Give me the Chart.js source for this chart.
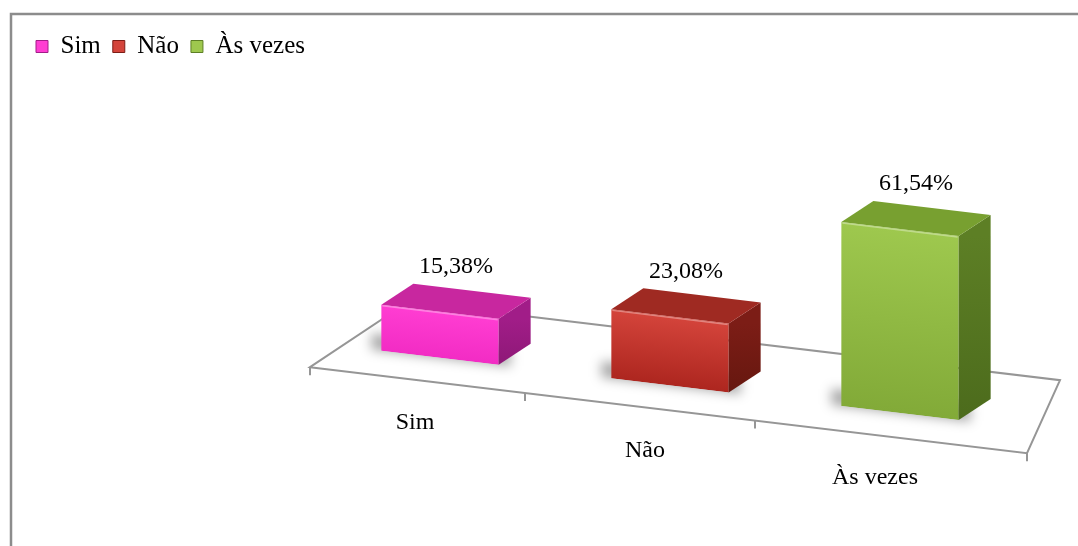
<!DOCTYPE html>
<html>
<head>
<meta charset="utf-8">
<script src="https://cdn.jsdelivr.net/npm/chart.js@4.4.0/dist/chart.umd.min.js"></script>
<style>
  html, body { margin: 0; padding: 0; background: #fff; }
</style>
</head>
<body>
<canvas id="chart" width="1078" height="546"></canvas>
<script>
const categories = ['Sim', 'Não', 'Às vezes']
const percentages = [15.38, 23.08, 61.54]

const frontTop = ['#ff3dd2', '#d4443b', '#9ec84e']
const frontBottom = ['#f22cc4', '#ad261f', '#82aa38']
const sideColors = ['#a11d88', '#7c1d16', '#5d7f25']
const sideBottom = ['#8e1877', '#66170f', '#4c6b1c']
const topColors = ['#c8279f', '#9f2a22', '#78a030']

// fake 3D look: everything leans down to the right
const skew = 0.12
const depth = { x: 32, y: -21 }
const serif = "'Liberation Serif', 'Times New Roman', serif"

const toScreen = (chart, x, y) => [x, y + skew * (x - chart.chartArea.left)]

const poly = (ctx, pts) => {
    ctx.beginPath()
    ctx.moveTo(pts[0][0], pts[0][1])
    pts.slice(1).forEach(p => ctx.lineTo(p[0], p[1]))
    ctx.closePath()
}

const perspective = {
    id: 'perspective',
    beforeDraw(chart) {
        const ctx = chart.ctx
        ctx.save()
        ctx.fillStyle = '#fff'
        ctx.fillRect(0, 0, chart.width, chart.height)
        ctx.strokeStyle = '#8c8c8c'
        ctx.lineWidth = 2.5
        ctx.beginPath()
        ctx.moveTo(11, chart.height)
        ctx.lineTo(11, 14)
        ctx.lineTo(chart.width, 14)
        ctx.stroke()
        ctx.restore()
    },
    beforeDatasetsDraw(chart) {
        const { ctx, chartArea: a } = chart
        const base = chart.scales.y.getPixelForValue(0)
        const xs = chart.scales.x
        const pt = (x, y) => toScreen(chart, x, y)

        // floor
        const fl = pt(a.left - 15, base + 25)
        const fr = pt(a.right + 12, base + 25)
        const br = pt(a.right + 45, base - 52)
        const bl = pt(a.left + 83, base - 52)
        ctx.save()
        ctx.strokeStyle = '#969696'
        ctx.lineWidth = 2
        poly(ctx, [fl, fr, br, bl])
        ctx.fillStyle = '#fff'
        ctx.fill()
        ctx.stroke()

        // tick marks on the front edge
        const ticks = [a.left - 15, a.right + 12]
        for (let i = 0; i < categories.length - 1; i++) {
            ticks.push((xs.getPixelForValue(i) + xs.getPixelForValue(i + 1)) / 2 - 30)
        }
        ticks.forEach(x => {
            const p = pt(x, base + 25)
            ctx.beginPath()
            ctx.moveTo(p[0], p[1])
            ctx.lineTo(p[0], p[1] + 8)
            ctx.stroke()
        })
        ctx.restore()

        // soft shadows under the bars
        ctx.save()
        ctx.transform(1, skew, 0, 1, 0, -skew * a.left)
        ctx.filter = 'blur(6px)'
        ctx.fillStyle = 'rgba(0,0,0,0.35)'
        chart.getDatasetMeta(0).data.forEach(el => {
            ctx.fillRect(el.x - el.width / 2 - 10, base - 16, el.width + 22, 16)
        })
        ctx.restore()

        // bars are drawn leaning
        ctx.save()
        ctx.transform(1, skew, 0, 1, 0, -skew * a.left)
    },
    afterDatasetsDraw(chart) {
        const ctx = chart.ctx
        ctx.restore()
        const base = chart.scales.y.getPixelForValue(0)
        const xs = chart.scales.x
        const pt = (x, y) => toScreen(chart, x, y)
        const add = p => [p[0] + depth.x, p[1] + depth.y]

        chart.getDatasetMeta(0).data.forEach((el, i) => {
            const half = el.width / 2
            const tl = pt(el.x - half, el.y)
            const tr = pt(el.x + half, el.y)
            const brr = pt(el.x + half, base)

            // side face
            const g = ctx.createLinearGradient(0, tr[1], 0, brr[1])
            g.addColorStop(0, sideColors[i])
            g.addColorStop(1, sideBottom[i])
            ctx.fillStyle = g
            poly(ctx, [tr, brr, add(brr), add(tr)])
            ctx.fill()

            // top face
            ctx.fillStyle = topColors[i]
            poly(ctx, [tl, tr, add(tr), add(tl)])
            ctx.fill()

            // bevel highlight
            ctx.strokeStyle = 'rgba(255,255,255,0.35)'
            ctx.lineWidth = 1.5
            ctx.beginPath()
            ctx.moveTo(tl[0] + 1, tl[1] + 1)
            ctx.lineTo(tr[0] - 1, tr[1] + 1)
            ctx.stroke()

            // value label
            const top = pt(el.x, el.y)
            ctx.fillStyle = '#000'
            ctx.font = '24px ' + serif
            ctx.textAlign = 'center'
            ctx.textBaseline = 'middle'
            ctx.fillText(percentages[i].toFixed(2).replace('.', ',') + '%', el.x + depth.x / 2, top[1] + depth.y - 24)
        })

        // category labels in front of the floor
        categories.forEach((c, i) => {
            const x = xs.getPixelForValue(i) - 25
            const p = pt(x, base + 25)
            ctx.fillStyle = '#000'
            ctx.font = '24px ' + serif
            ctx.textAlign = 'center'
            ctx.textBaseline = 'middle'
            ctx.fillText(c, x, p[1] + 43)
        })
    }
}

new Chart(document.getElementById('chart'), {
    type: 'bar',
    data: {
        labels: categories,
        datasets: [{
            data: percentages,
            backgroundColor: (c) => {
                const chart = c.chart
                if (!chart.chartArea) return frontTop[c.dataIndex]
                const y = chart.scales.y
                const g = chart.ctx.createLinearGradient(0, y.getPixelForValue(percentages[c.dataIndex]), 0, y.getPixelForValue(0))
                g.addColorStop(0, frontTop[c.dataIndex])
                g.addColorStop(1, frontBottom[c.dataIndex])
                return g
            },
            borderWidth: 0,
            categoryPercentage: 1,
            barPercentage: 0.51
        }]
    },
    options: {
        responsive: false,
        animation: false,
        layout: {
            padding: { left: 24, right: 63, top: 22, bottom: 202 }
        },
        scales: {
            x: { display: false },
            y: {
                min: 0,
                max: 92,
                ticks: { display: false },
                grid: { display: false },
                border: { display: false },
                afterFit: s => { s.width = 301 }
            }
        },
        plugins: {
            tooltip: { enabled: false },
            legend: {
                position: 'top',
                align: 'start',
                labels: {
                    boxWidth: 12,
                    boxHeight: 12,
                    padding: 12,
                    color: '#000',
                    font: { size: 25, family: serif },
                    generateLabels: (chart) => chart.data.labels.map((l, i) => ({
                        text: l,
                        fillStyle: frontTop[i],
                        strokeStyle: sideColors[i],
                        lineWidth: 1,
                        fontColor: '#000',
                        hidden: false,
                        index: i
                    }))
                }
            }
        }
    },
    plugins: [perspective]
})
</script>
</body>
</html>
